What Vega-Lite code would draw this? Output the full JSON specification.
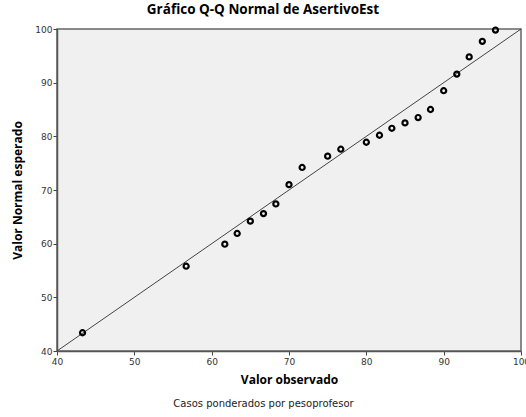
{
  "$schema": "https://vega.github.io/schema/vega-lite/v6.json",
  "width": 464,
  "height": 322,
  "autosize": {"type": "none"},
  "padding": {"left": 57, "top": 29, "right": 5, "bottom": 66},
  "background": "white",
  "title": {
    "text": "Gráfico Q-Q Normal de AsertivoEst",
    "font": "Open Sans",
    "fontSize": 13.5,
    "fontWeight": "bold",
    "color": "#000000",
    "anchor": "middle",
    "offset": 7,
    "dx": -26
  },
  "config": {
    "view": {"fill": "#F0F0F0", "stroke": "#666666", "strokeWidth": 1.5},
    "axis": {
      "grid": false,
      "labelFlush": false,
      "labelFont": "DejaVu Sans",
      "labelFontSize": 9,
      "labelColor": "#333333",
      "tickColor": "#444444",
      "tickSize": 4,
      "domainColor": "#555555",
      "domainWidth": 1.5,
      "titleFont": "Open Sans",
      "titleFontSize": 12,
      "titleFontWeight": "bold",
      "titleColor": "#000000"
    }
  },
  "data": {
    "values": [
      {"observado": 43.3, "esperado": 43.4},
      {"observado": 56.7, "esperado": 55.8},
      {"observado": 61.7, "esperado": 59.9},
      {"observado": 63.3, "esperado": 61.9},
      {"observado": 65.0, "esperado": 64.2},
      {"observado": 66.7, "esperado": 65.6},
      {"observado": 68.3, "esperado": 67.4},
      {"observado": 70.0, "esperado": 71.0},
      {"observado": 71.7, "esperado": 74.2},
      {"observado": 75.0, "esperado": 76.3},
      {"observado": 76.7, "esperado": 77.6},
      {"observado": 80.0, "esperado": 78.9},
      {"observado": 81.7, "esperado": 80.2},
      {"observado": 83.3, "esperado": 81.5},
      {"observado": 85.0, "esperado": 82.5},
      {"observado": 86.7, "esperado": 83.5},
      {"observado": 88.3, "esperado": 85.0},
      {"observado": 90.0, "esperado": 88.5},
      {"observado": 91.7, "esperado": 91.6},
      {"observado": 93.3, "esperado": 94.8},
      {"observado": 95.0, "esperado": 97.7},
      {"observado": 96.7, "esperado": 99.8}
    ]
  },
  "layer": [
    {
      "data": {"values": [{"a": 40, "b": 40, "a2": 100, "b2": 100}]},
      "mark": {"type": "rule", "color": "#444444", "strokeWidth": 1},
      "encoding": {
        "x": {"field": "a", "type": "quantitative", "scale": {"domain": [40, 100], "nice": false, "zero": false},
          "axis": {"orient": "bottom", "title": "Casos ponderados por pesoprofesor", "labels": false, "ticks": false, "domain": false,
            "titleFontWeight": "normal", "titleFontSize": 10, "titleFont": "DejaVu Sans", "titleColor": "#222222", "titlePadding": 47, "titleX": 206}},
        "y": {"field": "b", "type": "quantitative"},
        "x2": {"field": "a2"},
        "y2": {"field": "b2"}
      }
    },
    {
      "mark": {"type": "point", "shape": "circle", "filled": false, "color": "#000000", "strokeWidth": 2.2, "size": 26, "opacity": 1},
      "encoding": {
        "x": {"field": "observado", "type": "quantitative", "scale": {"domain": [40, 100], "nice": false, "zero": false},
          "axis": {"orient": "bottom", "title": "Valor observado", "values": [40, 50, 60, 70, 80, 90, 100], "labelPadding": 2, "titlePadding": 8}},
        "y": {"field": "esperado", "type": "quantitative", "scale": {"domain": [40, 100], "nice": false, "zero": false},
          "axis": {"title": "Valor Normal esperado", "values": [40, 50, 60, 70, 80, 90, 100], "labelPadding": 1, "titlePadding": 10}}
      }
    }
  ],
  "resolve": {"axis": {"x": "independent"}}
}
